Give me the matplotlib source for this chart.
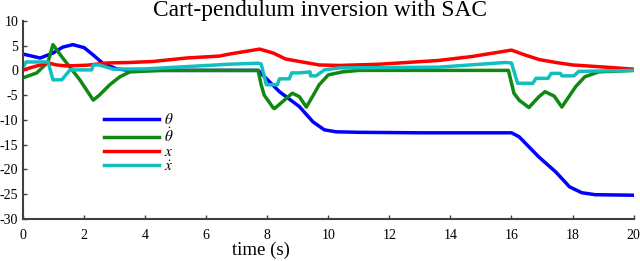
import matplotlib
matplotlib.use('Agg')
import matplotlib.pyplot as plt

plt.rcParams['font.family'] = 'Liberation Serif'
plt.rcParams['mathtext.fontset'] = 'stix'
plt.rcParams['axes.unicode_minus'] = False

# theta (blue)
t_theta = [0, 0.56, 0.98, 1.3, 1.63, 2.0, 2.3, 2.6, 3.07, 3.5, 5.0, 7.0, 7.7,
           8.4, 9.05, 9.5, 9.87, 10.26, 11.0, 13.0, 16.0, 16.25, 16.9, 17.45,
           17.9, 18.3, 18.75, 20.0]
theta = [3.3, 2.5, 3.5, 4.7, 5.2, 4.6, 3.1, 1.5, 0.3, 0.0, 0.0, 0.0, 0.0,
         -4.3, -7.3, -10.4, -12.0, -12.4, -12.5, -12.6, -12.6, -13.4, -17.5,
         -20.5, -23.5, -24.7, -25.1, -25.2]

# theta dot (green)
t_thetadot = [0, 0.45, 0.82, 0.98, 1.3, 1.86, 2.3, 2.5, 2.84, 3.17, 3.5, 4.5,
              7.7, 7.8, 7.9, 8.2, 8.24, 8.56, 8.82, 9.05, 9.28, 9.48, 9.7,
              10.0, 10.46, 11.0, 15.9, 16.08, 16.25, 16.57, 16.9, 17.1, 17.4,
              17.65, 18.1, 18.4, 18.85, 20.0]
thetadot = [-1.5, -0.5, 1.7, 5.2, 2.5, -1.9, -6.0, -5.0, -2.9, -1.3, -0.3, 0.0,
            0.0, -2.9, -5.0, -7.6, -7.7, -6.0, -4.6, -5.3, -7.4, -5.3, -2.9,
            -0.9, -0.3, 0.0, 0.0, -4.6, -6.0, -7.5, -5.3, -4.3, -5.2,
            -7.4, -3.3, -1.3, -0.3, 0.0]

# x (red)
t_x = [0, 0.45, 0.82, 1.1, 1.43, 2.1, 2.75, 3.5, 4.25, 5.35, 6.44, 6.76, 7.75,
       8.2, 8.6, 9.15, 9.7, 10.36, 11.67, 13.6, 14.7, 16.0, 16.45, 16.9, 17.45,
       18.0, 19.1, 20.0]
x = [0.1, 0.9, 1.5, 1.1, 0.9, 1.05, 1.5, 1.6, 1.8, 2.5, 2.9, 3.3, 4.3,
     3.5, 2.3, 1.7, 1.1, 1.0, 1.25, 2.0, 2.8, 4.1, 3.1, 2.2, 1.6,
     1.1, 0.65, 0.25]

# x dot (cyan)
t_xdot = [0, 0.1, 0.82, 0.98, 1.27, 1.54, 2.25, 2.3, 2.5, 2.95, 4.0, 6.76,
          7.7, 7.8, 7.97, 8.33, 8.4, 8.72, 8.8, 9.05, 9.4, 9.42, 9.6, 9.87,
          10.36, 13.6, 15.8, 16.0, 16.2, 16.7, 16.8, 17.2, 17.3, 17.6, 17.65,
          18.05, 18.2, 20.0]
xdot = [0.7, 1.7, 1.7, -1.9, -1.9, 0.1, 0.1, 1.1, 1.1, 0.25, 0.3, 1.25,
        1.45, 1.3, -2.9, -2.9, -1.7, -1.7, -0.5, -0.5, -0.3, -1.1, -1.1, 0.1,
        0.5, 0.65, 1.6, 1.5, -2.6, -2.6, -1.6, -1.6, -0.6, -0.6, -1.1,
        -1.1, -0.2, 0.0]

fig = plt.figure(figsize=(6.4, 2.61), dpi=100)
ax = fig.add_axes([0.036, 0.161, 0.954, 0.759])

lw = 2.5
ax.plot(t_theta, theta, color='#0000ff', lw=lw, label=r'$\theta$')
ax.plot(t_thetadot, thetadot, color='#118811', lw=lw, label=r'$\dot{\theta}$')
ax.plot(t_x, x, color='#ff0000', lw=lw, label=r'$x$')
ax.plot(t_xdot, xdot, color='#11bfbf', lw=lw, label=r'$\dot{x}$')

ax.set_xlim(0, 20)
ax.set_ylim(-30, 10)
ax.set_xticks(range(0, 21, 2))
ax.set_yticks(range(-30, 11, 5))
ax.tick_params(direction='in', length=3, width=1, colors='#404040',
               labelcolor='black', labelsize=10)
ax.tick_params(axis='x', pad=7)
for s in ['top', 'right']:
    ax.spines[s].set_visible(False)
for s in ['left', 'bottom']:
    ax.spines[s].set_color('#404040')
    ax.spines[s].set_linewidth(1.5)

ax.set_title('Cart-pendulum inversion with SAC', fontsize=16.8, pad=3, x=0.486)
ax.set_xlabel('time (s)', fontsize=13.5)
ax.xaxis.set_label_coords(0.39, -0.115)

ax.legend(loc='upper left', bbox_to_anchor=(0.133, 0.54), frameon=False,
          fontsize=11, handlelength=3.6, handletextpad=0.3, labelspacing=0.0,
          borderpad=0, borderaxespad=0)

fig.savefig('out.png', dpi=100)
